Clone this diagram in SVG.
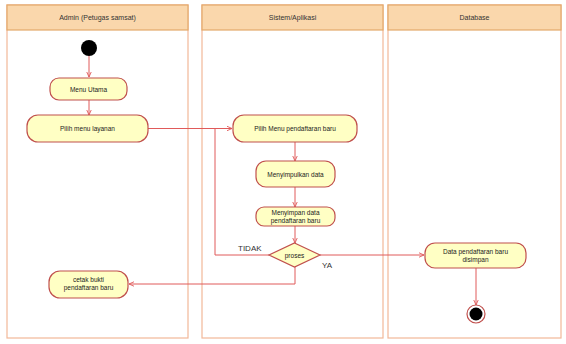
<svg xmlns="http://www.w3.org/2000/svg" width="566" height="344" viewBox="0 0 566 344">
<defs>
<style>
.lane{fill:#ffffff;stroke:#f2b898;stroke-width:1.2}
.hdr{fill:#fad7ac;stroke:#e3a86a;stroke-width:1.2}
.ht{font-family:"Liberation Sans",Arial,sans-serif;font-size:7px;fill:#333;text-anchor:middle}
.act{fill:#ffffc4;stroke:#c0504d;stroke-width:1.2}
.at{font-family:"Liberation Sans",Arial,sans-serif;font-size:6.5px;fill:#222;text-anchor:middle}
.lbl{font-family:"Liberation Sans",Arial,sans-serif;font-size:8px;fill:#333}
.c{fill:none;stroke:#e05a5a;stroke-width:1}
</style>
<marker id="ah" viewBox="0 0 10 10" refX="9" refY="5" markerWidth="6" markerHeight="6" orient="auto">
<path d="M0,1 L9,5 L0,9" fill="none" stroke="#e05a5a" stroke-width="1.5"/>
</marker>
</defs>
<rect width="566" height="344" fill="#ffffff"/>
<g id="lane-admin">
<rect class="lane" x="7" y="5" width="181" height="333"/>
<rect class="hdr" x="7" y="5" width="181" height="25"/>
<text class="ht" x="97.5" y="20">Admin (Petugas samsat)</text>
</g>
<g id="lane-sistem">
<rect class="lane" x="202" y="5" width="181" height="333"/>
<rect class="hdr" x="202" y="5" width="181" height="25"/>
<text class="ht" x="292.5" y="20">Sistem/Aplikasi</text>
</g>
<g id="lane-db">
<rect class="lane" x="388" y="5" width="173" height="333"/>
<rect class="hdr" x="388" y="5" width="173" height="25"/>
<text class="ht" x="474.5" y="20">Database</text>
</g>
<g id="connectors">
<line class="c" x1="89" y1="56" x2="89" y2="77" marker-end="url(#ah)"/>
<line class="c" x1="89" y1="100" x2="89" y2="115" marker-end="url(#ah)"/>
<line class="c" x1="148" y1="128.5" x2="232" y2="128.5" marker-end="url(#ah)"/>
<line class="c" x1="295" y1="142" x2="295" y2="161" marker-end="url(#ah)"/>
<line class="c" x1="295" y1="187" x2="295" y2="207" marker-end="url(#ah)"/>
<line class="c" x1="295" y1="226" x2="295" y2="243" marker-end="url(#ah)"/>
<polyline class="c" points="269,255 215,255 215,128.5"/>
<line class="c" x1="320" y1="255" x2="424" y2="255" marker-end="url(#ah)"/>
<polyline class="c" points="295,267 295,284 129,284" marker-end="url(#ah)"/>
<line class="c" x1="476" y1="268" x2="476" y2="305" marker-end="url(#ah)"/>
<text class="lbl" x="238" y="251">TIDAK</text>
<text class="lbl" x="322" y="268">YA</text>
</g>
<g id="start">
<circle cx="89" cy="48" r="8" fill="#000"/>
</g>
<g id="menu-utama">
<rect class="act" x="50" y="78" width="77" height="22" rx="9"/>
<text class="at" x="88.5" y="91.5">Menu Utama</text>
</g>
<g id="pilih-menu-layanan">
<rect class="act" x="27" y="115" width="121" height="27" rx="11"/>
<text class="at" x="87.5" y="131">Pilih menu layanan</text>
</g>
<g id="pilih-menu-pendaftaran">
<rect class="act" x="233" y="115" width="124" height="27" rx="11"/>
<text class="at" x="295" y="131">Pilih Menu pendaftaran baru</text>
</g>
<g id="menyimpulkan-data">
<rect class="act" x="256" y="161" width="79" height="26" rx="10"/>
<text class="at" x="295.5" y="176.5">Menyimpulkan data</text>
</g>
<g id="menyimpan-data">
<rect class="act" x="256" y="207" width="79" height="19" rx="8"/>
<text class="at" x="295.5" y="215">Menyimpan data</text>
<text class="at" x="295.5" y="223">pendaftaran baru</text>
</g>
<g id="proses">
<polygon class="act" points="294.5,243 320,255 294.5,267 269,255"/>
<text class="at" x="294.5" y="258">proses</text>
</g>
<g id="cetak-bukti">
<rect class="act" x="49" y="271" width="79" height="27" rx="11"/>
<text class="at" x="88.5" y="282">cetak bukti</text>
<text class="at" x="88.5" y="290">pendaftaran baru</text>
</g>
<g id="data-disimpan">
<rect class="act" x="425" y="243" width="101" height="25" rx="10"/>
<text class="at" x="475.5" y="253.5">Data pendaftaran baru</text>
<text class="at" x="475.5" y="262">disimpan</text>
</g>
<g id="end">
<circle cx="476" cy="314" r="9" fill="#fff" stroke="#c0504d" stroke-width="1.2"/>
<circle cx="476" cy="314" r="6.5" fill="#000"/>
</g>
</svg>
